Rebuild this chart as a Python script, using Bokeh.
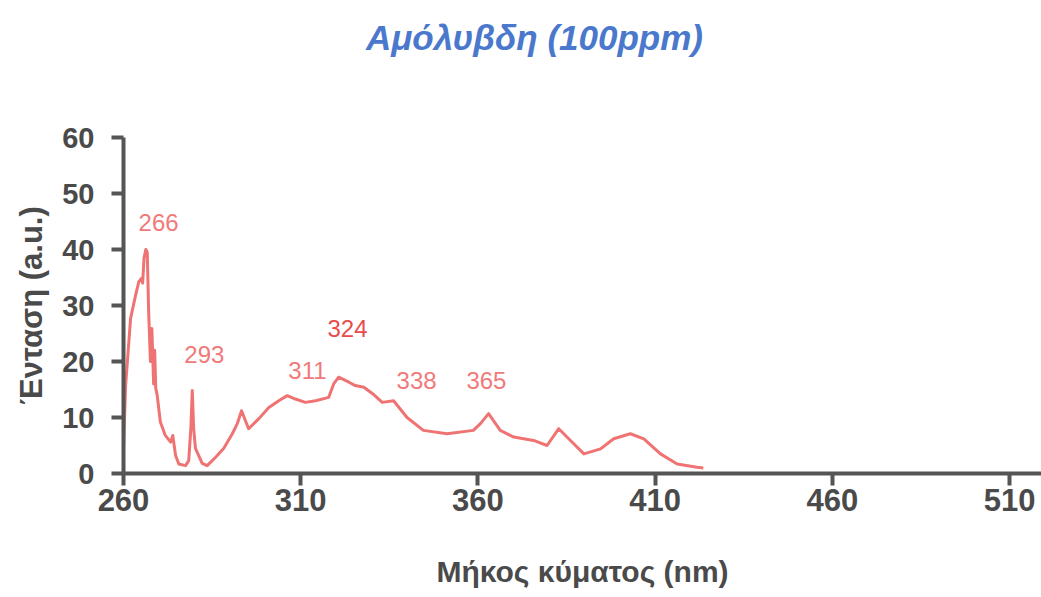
from bokeh.plotting import figure
from bokeh.layouts import column
from bokeh.models import ColumnDataSource, Range1d, FixedTicker
from bokeh.core.properties import value
from bokeh.embed import file_html
from bokeh.resources import INLINE

# Emission spectrum, wavelength (nm) vs intensity (a.u.)
wavelength = [260.0, 260.6, 262.0, 263.4, 264.3, 265.0, 265.4, 265.8, 266.3, 266.7,
              267.1, 267.6, 268.0, 268.5, 268.8, 269.1, 269.5, 270.4, 271.8, 273.3,
              273.9, 274.7, 275.6, 277.5, 278.4, 279.0, 279.4, 279.8, 280.3, 282.2,
              283.6, 286.0, 288.3, 290.7, 292.1, 293.3, 295.3, 298.2, 301.0, 303.8,
              306.2, 308.5, 311.3, 314.2, 317.9, 319.3, 320.7, 323.6, 325.4, 327.8,
              330.2, 333.0, 336.2, 340.0, 344.6, 351.3, 358.7, 360.7, 363.0, 366.3,
              370.1, 375.7, 379.5, 382.8, 386.1, 389.9, 394.6, 398.3, 403.0, 406.8,
              411.5, 416.2, 421.8, 423.6]
intensity = [4.5, 15.7, 27.7, 31.8, 34.2, 34.8, 34.0, 38.5, 40.0, 39.5,
             28.8, 20.0, 25.9, 16.0, 22.0, 15.2, 14.0, 9.2, 6.8, 5.6,
             6.8, 3.2, 1.7, 1.4, 2.3, 8.0, 14.8, 8.0, 4.5, 1.8,
             1.4, 2.9, 4.5, 7.1, 8.9, 11.2, 8.0, 9.8, 11.8, 13.0,
             13.9, 13.3, 12.7, 13.0, 13.6, 16.0, 17.2, 16.3, 15.7, 15.4,
             14.3, 12.7, 13.0, 10.0, 7.7, 7.1, 7.7, 8.9, 10.7, 7.7,
             6.5, 5.9, 5.0, 8.0, 5.9, 3.5, 4.4, 6.2, 7.1, 6.2,
             3.5, 1.7, 1.1, 1.0]

# Peak annotations and where they sit on the chart
peak_text = ["266", "293", "311", "324", "338", "365"]
peak_x = [269.9, 282.8, 311.9, 323.2, 342.7, 362.4]
peak_y = [44.8, 21.3, 18.4, 25.9, 16.6, 16.6]
peak_color = ["#f07a7a", "#f07a7a", "#f07a7a", "#e84c4c", "#f07a7a", "#f07a7a"]

x_ticks = [260, 310, 360, 410, 460, 510]
y_ticks = [0, 10, 20, 30, 40, 50, 60]

TITLE = "Αμόλυβδη (100ppm)"
AXIS = "#555555"
TEXT = "#4a4a4a"

# Heading strip: a bare figure whose frame shares the left border of the
# plot below; its x range is in page pixels so the text can be centred freely.
head = figure(width=1041, height=117, output_backend="svg", toolbar_location=None,
              x_range=Range1d(123, 1041), y_range=Range1d(0, 117),
              min_border=0)
head.axis.visible = False
head.grid.visible = False
head.outline_line_color = None
head.text(x=[534], y=[80], text=[TITLE], text_align="center",
          text_baseline="middle", text_font=value("Liberation Sans"),
          text_font_style="bold italic", text_font_size="35px",
          text_color="#4a78cc")

# Spectrum plot
p = figure(width=1041, height=480, output_backend="svg", toolbar_location=None,
           x_range=Range1d(260, 519), y_range=Range1d(0, 60),
           min_border_left=123, min_border_right=0,
           min_border_top=20, min_border_bottom=124)

p.outline_line_color = None
p.xgrid.visible = False
p.ygrid.visible = False
p.background_fill_color = "white"
p.border_fill_color = "white"

p.line(wavelength, intensity, line_color="#f07373", line_width=3, line_join="round")

src = ColumnDataSource(dict(x=peak_x, y=peak_y, t=peak_text, c=peak_color))
p.text(x="x", y="y", text="t", source=src, text_color="c",
       text_font=value("Liberation Sans"), text_font_size="24px",
       text_align="center", text_baseline="middle")

for ax in (p.xaxis[0], p.yaxis[0]):
    ax.axis_line_color = AXIS
    ax.axis_line_width = 4
    ax.major_tick_line_color = AXIS
    ax.major_tick_line_width = 4
    ax.major_tick_out = 12
    ax.major_tick_in = 0
    ax.minor_tick_line_color = None
    ax.major_label_text_font = "Liberation Sans"
    ax.major_label_text_font_style = "bold"
    ax.major_label_text_color = TEXT
    ax.axis_label_text_font = "Liberation Sans"
    ax.axis_label_text_font_style = "bold"
    ax.axis_label_text_color = TEXT

p.xaxis.ticker = FixedTicker(ticks=x_ticks)
p.yaxis.ticker = FixedTicker(ticks=y_ticks)
p.xaxis.major_label_text_font_size = "31px"
p.yaxis.major_label_text_font_size = "29px"
p.xaxis.major_label_standoff = 3
p.yaxis.major_label_standoff = 17
p.xaxis.axis_label = "Μήκος κύματος (nm)"
p.yaxis.axis_label = "Ένταση (a.u.)"
p.xaxis.axis_label_text_font_size = "30px"
p.yaxis.axis_label_text_font_size = "31px"
p.xaxis.axis_label_standoff = 41
p.yaxis.axis_label_standoff = 10

layout = column(head, p, spacing=0)
open("out.html", "w").write(file_html(layout, INLINE))
